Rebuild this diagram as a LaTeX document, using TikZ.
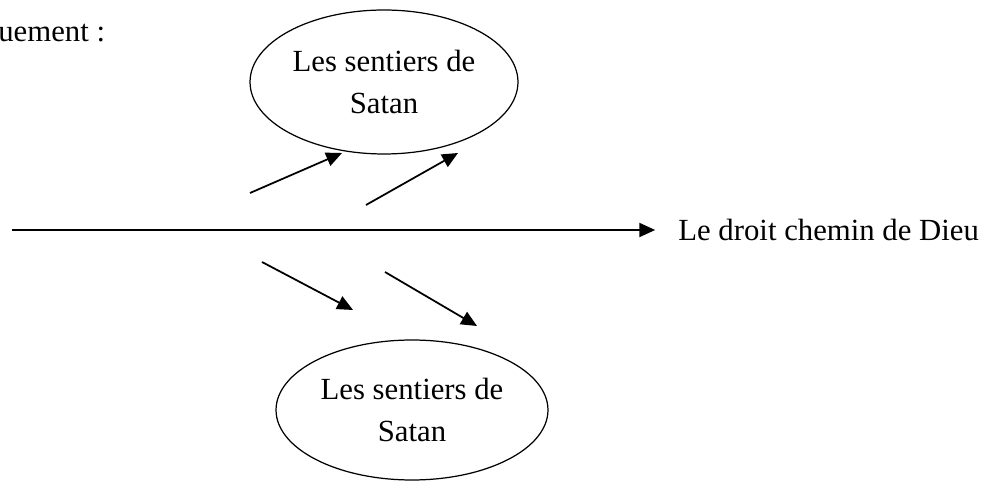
\documentclass[tikz,border=0pt]{standalone}
\usepackage{fontspec}
\setmainfont{Liberation Serif}
\usetikzlibrary{shapes.geometric, arrows.meta}

\begin{document}
\begin{tikzpicture}[x=0.02cm, y=-0.02cm,
    every node/.style={font=\fontsize{17.5}{24}\selectfont},
    sentier/.style={ellipse, draw, line width=0.7pt, align=center, inner sep=0pt, outer sep=0pt},
    fleche/.style={-{Triangle[length=9pt, width=8pt]}, line width=1pt}]
        \useasboundingbox (0,0) rectangle (987,482);

        \node[anchor=west, inner sep=0pt] (intro) at (-2,33) {uement :};

        \node[sentier, minimum width=5.36cm, minimum height=2.88cm] (satanhaut) at (384,82) {Les sentiers de\\Satan};
        \node[sentier, minimum width=5.44cm, minimum height=2.8cm] (satanbas) at (412,410) {Les sentiers de\\Satan};

        \coordinate (debut) at (12,230);
        \node[anchor=west, inner sep=0pt] (dieu) at (678,230) {Le droit chemin de Dieu};

        \coordinate (h1) at (250,193);
        \coordinate (h1t) at (342,153);
        \coordinate (h2) at (366,205);
        \coordinate (h2t) at (458,153);

        \coordinate (b1) at (262,262);
        \coordinate (b1t) at (353,310);
        \coordinate (b2) at (385,272);
        \coordinate (b2t) at (477,326);

        \draw[fleche] (debut) -- ([xshift=-13]dieu.west);
        \draw[fleche] (h1) -- (h1t);
        \draw[fleche] (h2) -- (h2t);
        \draw[fleche] (b1) -- (b1t);
        \draw[fleche] (b2) -- (b2t);
    \end{tikzpicture}
\end{document}
